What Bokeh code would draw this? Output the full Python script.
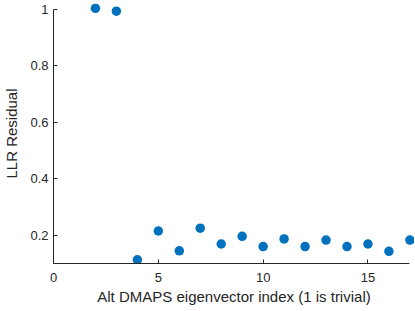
from bokeh.plotting import figure
from bokeh.models import Range1d, FixedTicker
from bokeh.embed import file_html
from bokeh.resources import INLINE

idx = [2, 3, 4, 5, 6, 7, 8, 9, 10, 11, 12, 13, 14, 15, 16, 17]
residual = [1.003, 0.993, 0.113, 0.215, 0.145, 0.225, 0.169, 0.196,
            0.160, 0.187, 0.160, 0.183, 0.160, 0.169, 0.143, 0.183]
x_ticks = [0, 5, 10, 15]
y_ticks = [0.2, 0.4, 0.6, 0.8, 1.0]
y_tick_labels = ["0.2", "0.4", "0.6", "0.8", "1"]

p = figure(output_backend="svg", toolbar_location=None,
           frame_width=361, frame_height=260,
           min_border_left=44, min_border_right=0, min_border_top=3, min_border_bottom=45,
           x_range=Range1d(0, 17.22), y_range=Range1d(0.1, 1.02))
p.outline_line_color = None
p.background_fill_color = "white"
p.border_fill_color = "white"
p.grid.visible = False

p.scatter(idx, residual, size=9.5, color="#0072BD", line_color=None)

ax_col = "#262626"
font = "Liberation Sans"
for ax in (p.xaxis[0], p.yaxis[0]):
    ax.axis_line_color = ax_col
    ax.axis_line_width = 1
    ax.major_tick_line_color = ax_col
    ax.major_tick_in = 4
    ax.major_tick_out = 0
    ax.minor_tick_line_color = None
    ax.major_label_text_color = ax_col
    ax.major_label_text_font = font
    ax.major_label_text_font_size = "13px"
    ax.axis_label_text_font = font
    ax.axis_label_text_font_size = "15px"
    ax.axis_label_text_font_style = "normal"
    ax.axis_label_text_color = ax_col

p.xaxis.ticker = FixedTicker(ticks=x_ticks)
p.xaxis.bounds = (0, 17)
p.xaxis.axis_label = "Alt DMAPS eigenvector index (1 is trivial)"
p.xaxis.major_label_standoff = 9
p.xaxis.axis_label_standoff = 3

p.yaxis.ticker = FixedTicker(ticks=y_ticks)
p.yaxis.bounds = (0.1, 1.0)
p.yaxis.major_label_overrides = {t: s for t, s in zip(y_ticks, y_tick_labels)}
p.yaxis.axis_label = "LLR Residual"
p.yaxis.major_label_standoff = 5
p.yaxis.axis_label_standoff = 7

open("out.html", "w").write(file_html(p, INLINE))
